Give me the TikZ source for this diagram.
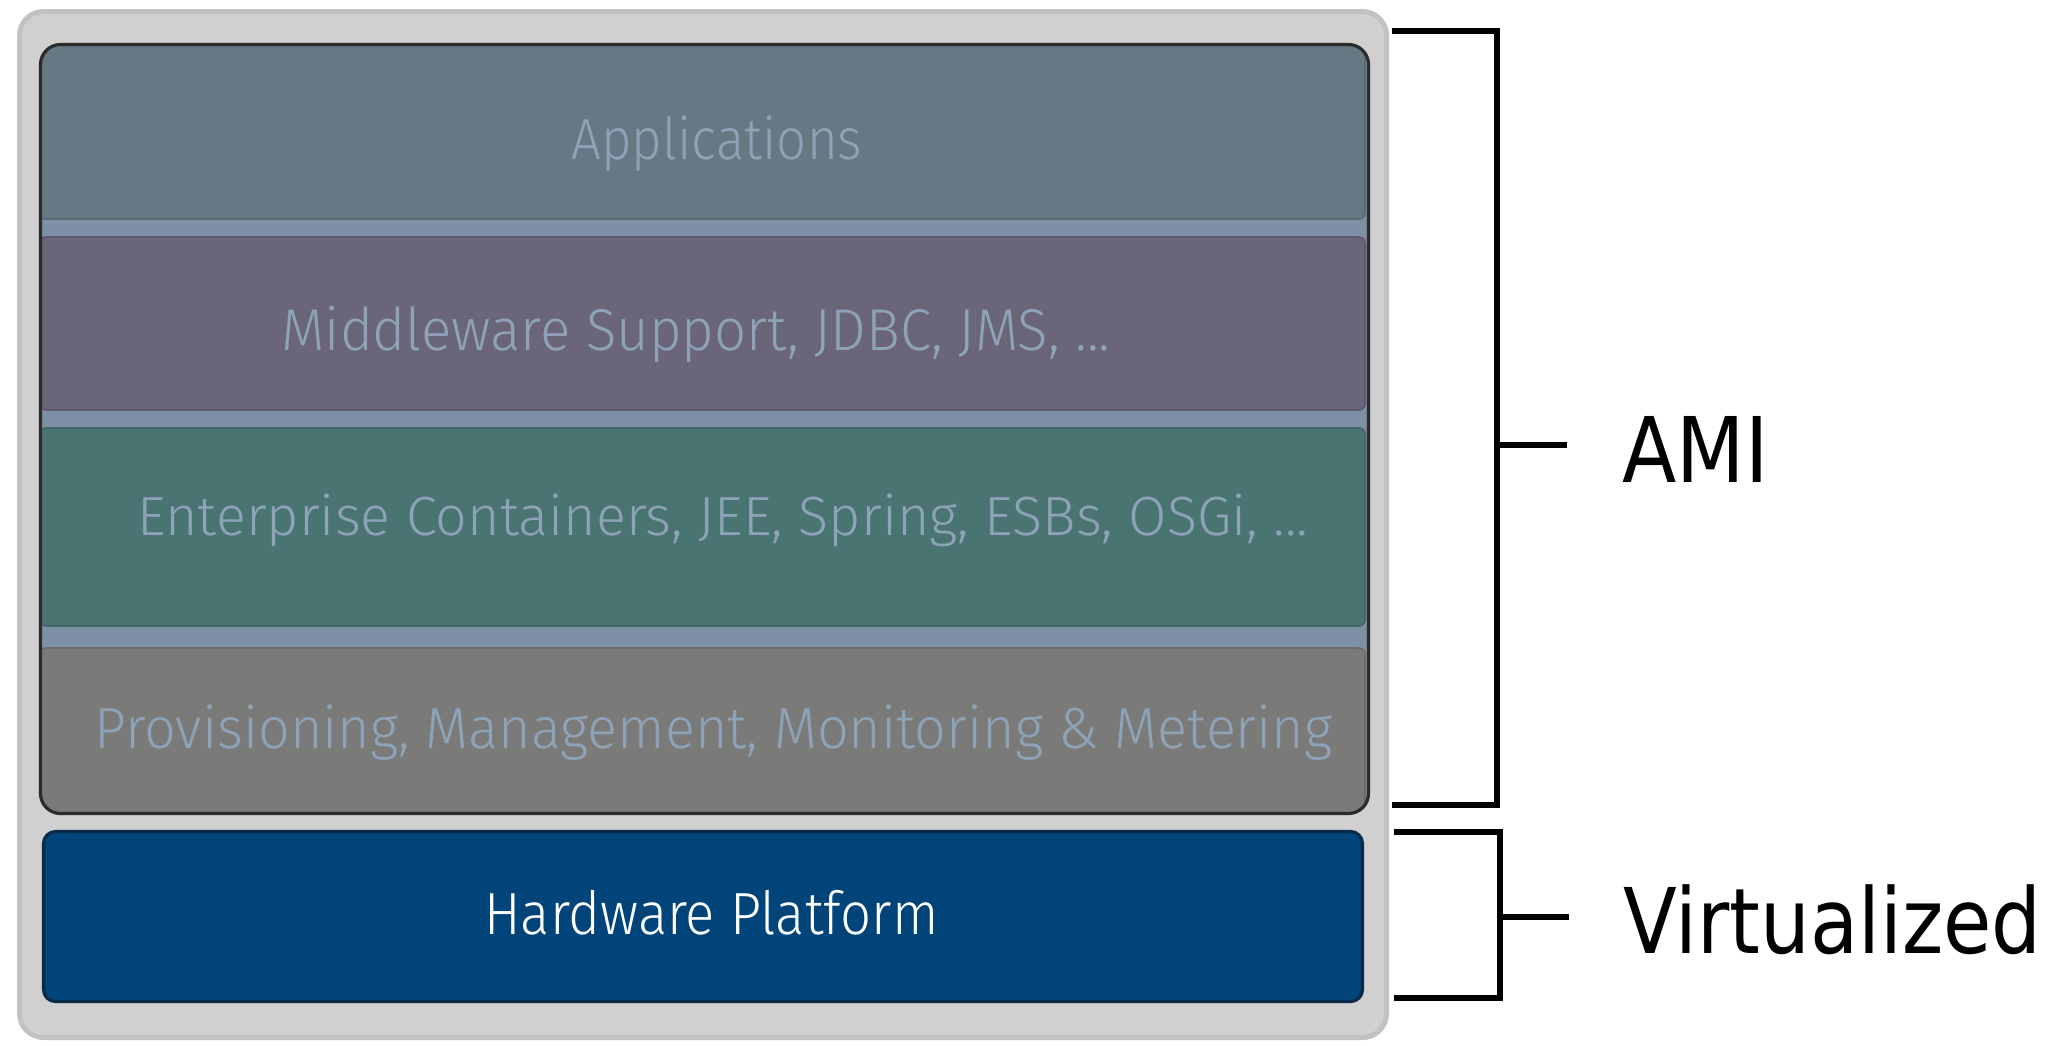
\documentclass[tikz,border=0pt]{standalone}
\usepackage{fontspec}
\setmainfont{Fira Sans}
\newfontfamily\firalight{Fira Sans Light}
\newfontfamily\djfont{DejaVu Sans}
\usetikzlibrary{fit}
\definecolor{outerfill}{HTML}{D0D0D0}
\definecolor{outerline}{HTML}{C2C2C2}
\definecolor{gapcol}{HTML}{7E90A5}
\definecolor{appscol}{HTML}{657883}
\definecolor{mwcol}{HTML}{6A6579}
\definecolor{entcol}{HTML}{4A7472}
\definecolor{provcol}{HTML}{7A7B78}
\definecolor{hwcol}{HTML}{00447A}
\definecolor{hwline}{HTML}{0A2A4A}
\definecolor{frameline}{HTML}{2B2B2B}
\definecolor{txtcol}{HTML}{8EA2B8}
\tikzset{
  layerbox/.style={inner sep=0pt, rounded corners=3pt, fill=#1, draw=#1!88!black, line width=0.8pt},
  layertext/.style={anchor=base west, inner sep=0pt, text=txtcol},
  bracket/.style={line width=2.9pt, line join=miter, draw=black},
  sidelabel/.style={anchor=base west, inner sep=0pt, text=black}
}
\newcommand{\fitw}[2]{\resizebox{#1}{\height}{#2}}
\begin{document}
\begin{tikzpicture}[x=0.5pt,y=-0.5pt]
\useasboundingbox (0,0) rectangle (2064,1045);
\fill[white] (0,0) rectangle (2064,1045);
% outer frame
\node[fit={(19.5,11.5) (1386.5,1037.5)}, inner sep=0pt, rounded corners=12pt,
      fill=outerfill, draw=outerline, line width=2.5pt] (outer) {};
% AMI frame background
\fill[gapcol, rounded corners=10pt] (40.5,44.5) rectangle (1368.5,813.5);
\begin{scope}
  \clip[rounded corners=10pt] (40.5,44.5) rectangle (1368.5,813.5);
  \node[layerbox=appscol, fit={(38,40) (1365,219)}] (apps) {};
  \node[layerbox=mwcol, fit={(40,237) (1365,410)}] (mw) {};
  \node[layerbox=entcol, fit={(40,428) (1365,626)}] (ent) {};
  \node[layerbox=provcol, fit={(40,648) (1365,818)}] (prov) {};
\end{scope}
\node[fit={(40.5,44.5) (1368.5,813.5)}, inner sep=0pt, rounded corners=10pt,
      draw=frameline, line width=1.6pt] (amiframe) {};
% hardware
\node[fit={(43.5,831.5) (1362.5,1001.5)}, inner sep=0pt, rounded corners=6pt,
      fill=hwcol, draw=hwline, line width=1.6pt] (hw) {};
% layer texts
\node[layertext] (tapps) at (571,159) {\fontsize{29pt}{30pt}\firalight\fitw{145.5pt}{Applications}};
\node[layertext] (tmw) at (281,350) {\fontsize{29.5pt}{30pt}\firalight\fitw{414.5pt}{Middleware Support, JDBC, JMS, ...}};
\node[layertext] (tent) at (137,535) {\fontsize{27.6pt}{29pt}\firalight\fitw{585.5pt}{Enterprise Containers, JEE, Spring, ESBs, OSGi, ...}};
\node[layertext] (tprov) at (94,748) {\fontsize{29pt}{30pt}\firalight\fitw{619pt}{Provisioning, Management, Monitoring \& Metering}};
\node[layertext, text=white] (thw) at (484,934) {\fontsize{29.75pt}{31pt}\firalight\fitw{227pt}{Hardware Platform}};
% brackets
\coordinate (a1) at (1392,31);
\coordinate (a2) at (1497,31);
\coordinate (a3) at (1497,805);
\coordinate (a4) at (1392,805);
\coordinate (am) at (1497,445);
\coordinate (at) at (1567,445);
\draw[bracket] (a1) -- (a2) -- (a3) -- (a4);
\draw[bracket] (am) -- (at);
\coordinate (v1) at (1394,832);
\coordinate (v2) at (1500,832);
\coordinate (v3) at (1500,998);
\coordinate (v4) at (1394,998);
\coordinate (vm) at (1500,917);
\coordinate (vt) at (1569,917);
\draw[bracket] (v1) -- (v2) -- (v3) -- (v4);
\draw[bracket] (vm) -- (vt);
\node[sidelabel] (ami) at (1622,482) {\fontsize{45.3pt}{48pt}\djfont\fitw{73pt}{AMI}};
\node[sidelabel] (virt) at (1623,953) {\fontsize{45.3pt}{48pt}\djfont\fitw{209pt}{Virtualized}};
\end{tikzpicture}
\end{document}
